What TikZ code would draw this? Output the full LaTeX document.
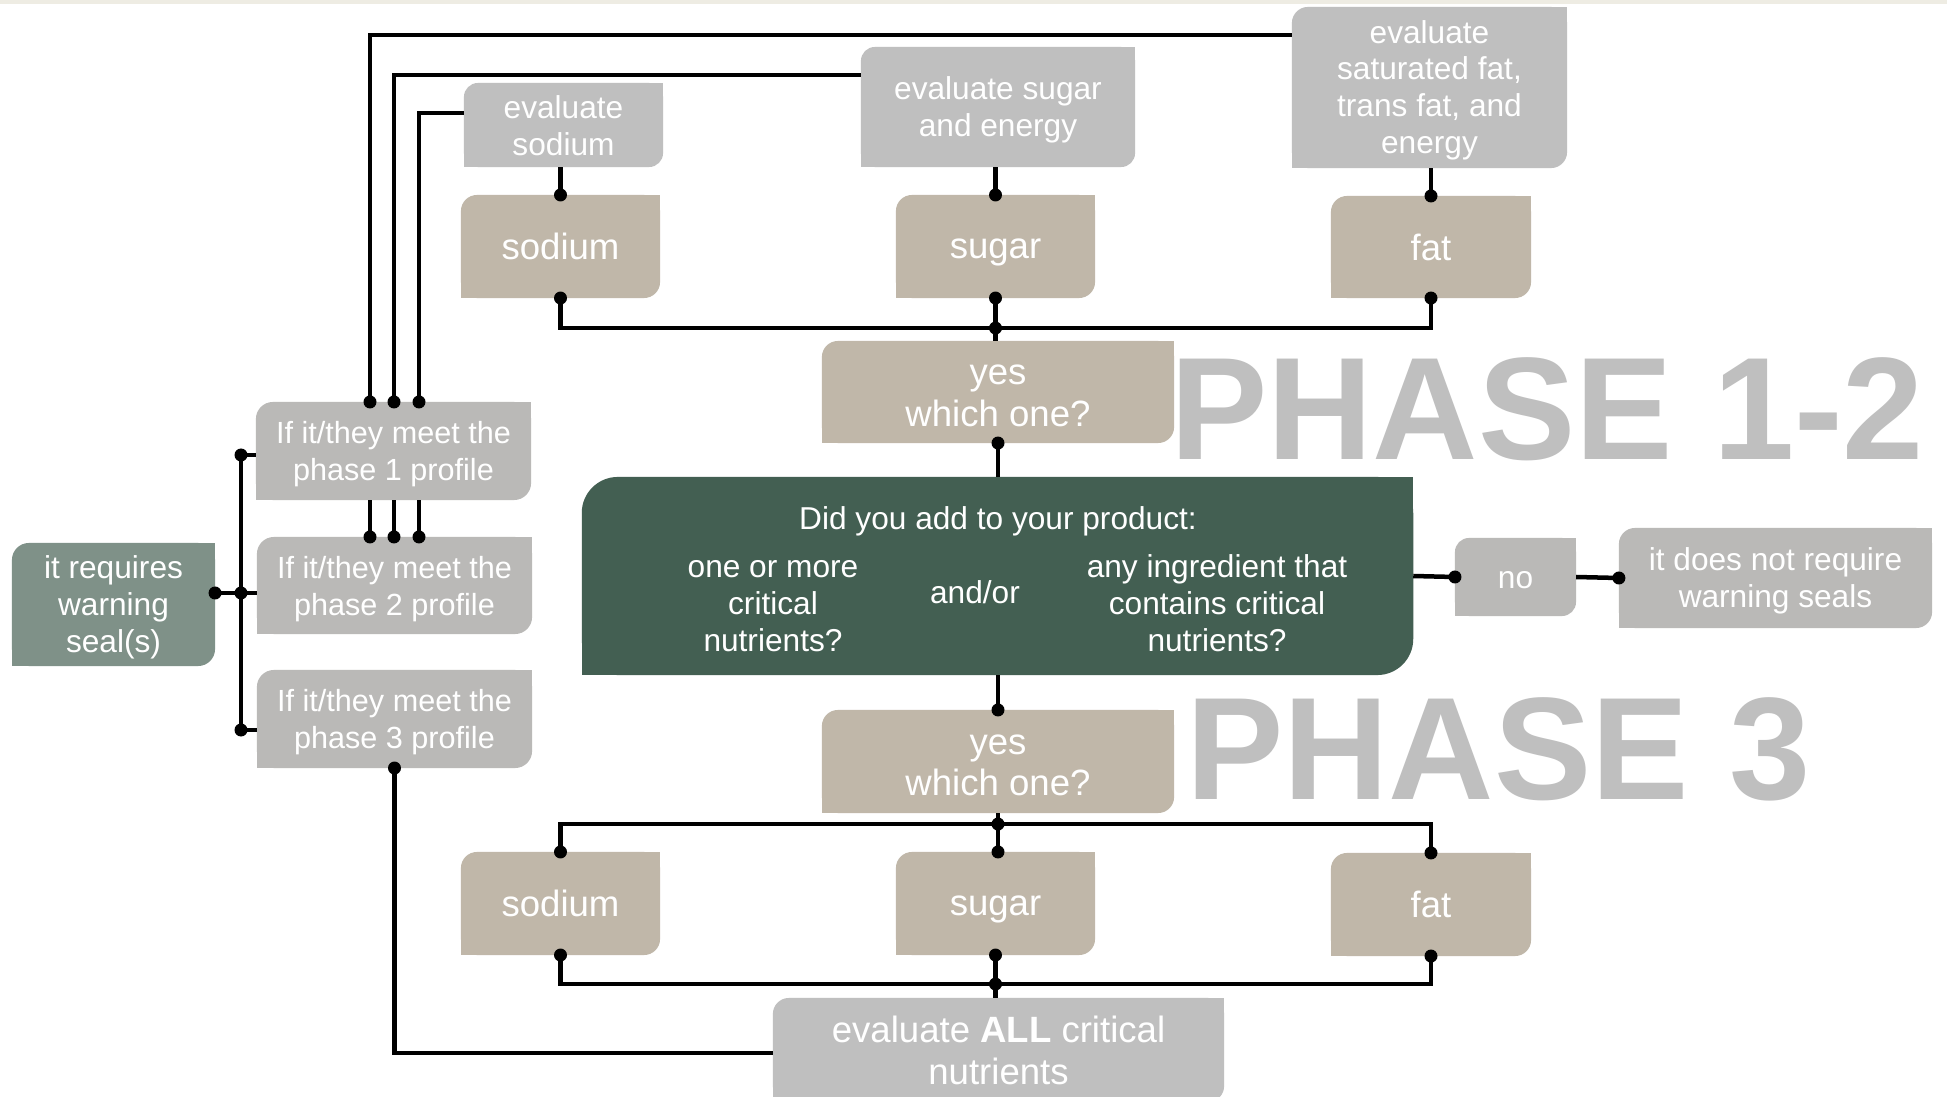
\documentclass[tikz,border=0pt]{standalone}
\usepackage{fontspec}
\setmainfont{Liberation Sans}
\definecolor{evgrey}{HTML}{BFBFBF}
\definecolor{prgrey}{HTML}{BAB9B7}
\definecolor{beige}{HTML}{C0B7A9}
\definecolor{dgreen}{HTML}{435F52}
\definecolor{warncol}{HTML}{7F9188}
\definecolor{phasecol}{HTML}{BFBFBF}
\definecolor{topstrip}{HTML}{EEECE3}
\newcommand\fsA{\fontsize{9}{10.5}\selectfont}
\newcommand\fsB{\fontsize{10.4}{11.8}\selectfont}
\newcommand\fsC{\fontsize{8.7}{10.5}\selectfont}
\newcommand\mst{\rule[-0.13\baselineskip]{0pt}{0.9\baselineskip}}
\newcommand\dbox[9]{%
  \pgfmathsetmacro\dbW{(#6-#4)*0.284528}%
  \pgfmathsetmacro\dbH{(#7-#5)*0.284528}%
  \pgfmathsetmacro\dbX{(#4+#6)/2}%
  \pgfmathsetmacro\dbY{(#5+#7)/2}%
  \pgfmathsetmacro\dbR{#9*0.284528}%
  \node[boxbase, fill=#2, font=#3, rounded corners=\dbR pt, minimum width=\dbW pt, minimum height=\dbH pt] (#1) at (\dbX,\dbY) {#8};%
  \fill[#2] (#1.north east) rectangle ++(-#9,#9);%
  \fill[#2] (#1.south west) rectangle ++(#9,-#9);%
}
\newcommand\dt[1]{\fill (#1) circle (6.5);}
\begin{document}
\begin{tikzpicture}[x=0.01cm, y=-0.01cm,
  boxbase/.style={inner sep=0pt, outer sep=0pt, text=white, align=center},
  conn/.style={line width=0.045cm, line join=miter},
  thinconn/.style={line width=0.032cm},
  phasetxt/.style={inner sep=0pt, outer sep=0pt, text=phasecol, font=\fontsize{41.5}{41.5}\selectfont\bfseries},
  gtxt/.style={inner sep=0pt, text=white, align=center, font=\fsA}]
\useasboundingbox (0,0) rectangle (1947,1097);
\fill[white] (0,0) rectangle (1947,1097);
\fill[topstrip] (0,0) rectangle (1947,4);

% watermark texts
\node[phasetxt, anchor=base west] (ph12) at (1170,460) {PHASE 1-2};
\node[phasetxt, anchor=base west] (ph3) at (1186,800) {PHASE 3};

% boxes
\dbox{evsod}{evgrey}{\fsA}{464}{83}{663}{167}{\mst evaluate\\\mst sodium}{14}
\dbox{evsug}{evgrey}{\fsA}{861}{47}{1135}{167}{\mst evaluate sugar\\\mst and energy}{14}
\dbox{evfat}{evgrey}{\fsA}{1292}{7}{1567}{168}{\mst evaluate\\\mst saturated fat,\\\mst trans fat, and\\\mst energy}{16}
\dbox{sodA}{beige}{\fsB}{461}{195}{660}{298}{\mst sodium}{16}
\dbox{sugA}{beige}{\fsB}{896}{195}{1095}{298}{\mst sugar}{16}
\dbox{fatA}{beige}{\fsB}{1331}{196}{1531}{298}{\mst fat}{16}
\dbox{yesA}{beige}{\fsB}{822}{341}{1174}{443}{\mst yes\\\mst which one?}{16}
\dbox{green}{dgreen}{\fsA}{582}{477}{1413}{675}{}{36}
\dbox{no}{prgrey}{\fsA}{1455}{538}{1576}{616}{\mst no}{14}
\dbox{nr}{prgrey}{\fsA}{1619}{528}{1932}{628}{\mst it does not require\\\mst warning seals}{16}
\dbox{yesB}{beige}{\fsB}{822}{710}{1174}{813}{\mst yes\\\mst which one?}{16}
\dbox{sodB}{beige}{\fsB}{461}{852}{660}{955}{\mst sodium}{16}
\dbox{sugB}{beige}{\fsB}{896}{852}{1095}{955}{\mst sugar}{16}
\dbox{fatB}{beige}{\fsB}{1331}{853}{1531}{956}{\mst fat}{16}
\dbox{evall}{evgrey}{\fsB}{773}{998}{1224}{1102}{\mst evaluate \textbf{ALL} critical\\\mst nutrients}{16}
\dbox{phA}{prgrey}{\fsC}{256}{402}{531}{500}{\mst If it/they meet the\\\mst phase 1 profile}{17}
\dbox{phB}{prgrey}{\fsC}{257}{537}{532}{634}{\mst If it/they meet the\\\mst phase 2 profile}{17}
\dbox{phC}{prgrey}{\fsC}{257}{670}{532}{768}{\mst If it/they meet the\\\mst phase 3 profile}{17}
\dbox{warn}{warncol}{\fsA}{12}{543}{215}{666}{\mst it requires\\\mst warning\\\mst seal(s)}{17}

% green box texts
\node[gtxt] (gq) at (998,522) {\strut Did you add to your product:};
\node[gtxt] (ga) at (773,607) {\strut one or more\\\strut critical\\\strut nutrients?};
\node[gtxt] (gb) at (975,596) {\strut and/or};
\node[gtxt] (gc) at (1217,607) {\strut any ingredient that\\\strut contains critical\\\strut nutrients?};

% phase 1-2 connectors
\draw[conn] (sodA.north |- evsod.south) -- (sodA.north); \dt{sodA.north}
\draw[conn] (sugA.north |- evsug.south) -- (sugA.north); \dt{sugA.north}
\draw[conn] (fatA.north |- evfat.south) -- (fatA.north); \dt{fatA.north}
\path (sugA.south) ++(0,30) coordinate (j1);
\draw[conn] (sodA.south) -- (sodA.south |- j1) -- (fatA.south |- j1) -- (fatA.south);
\draw[conn] (sugA.south) -- (yesA.north -| sugA.south);
\dt{sodA.south}\dt{sugA.south}\dt{fatA.south}\dt{j1}
\draw[conn] (yesA.south) -- (green.north -| yesA.south); \dt{yesA.south}
\draw[conn] (green.east) -- (no.west); \dt{no.west}
\draw[conn] (no.east) -- (nr.west); \dt{nr.west}

% phase 3 connectors
\draw[conn] (green.south -| yesB.north) -- (yesB.north); \dt{yesB.north}
\path (yesB.south) ++(0,11) coordinate (j3);
\draw[conn] (yesB.south) -- (sugB.north -| yesB.south);
\draw[conn] (sodB.north) -- (sodB.north |- j3) -- (fatB.north |- j3) -- (fatB.north);
\dt{j3}\dt{sodB.north}\dt{sugB.north -| yesB.south}\dt{fatB.north}
\path (sugB.south) ++(0,29) coordinate (j4);
\draw[conn] (sodB.south) -- (sodB.south |- j4) -- (fatB.south |- j4) -- (fatB.south);
\draw[conn] (sugB.south) -- (evall.north -| sugB.south);
\dt{sodB.south}\dt{sugB.south}\dt{fatB.south}\dt{j4}

% phase 3 profile to evaluate all
\coordinate (c3) at (394,1053);
\draw[conn] (phC.south) -- (phC.south |- c3) -- (c3 -| evall.west); \dt{phC.south}

% phase 1 profile to evaluate boxes
\coordinate (t1) at (370,35);
\coordinate (t2) at (394,75);
\coordinate (t3) at (419,113);
\draw[conn] (phA.north -| t1) -- (t1) -- (t1 -| evfat.west);
\draw[conn] (phA.north -| t2) -- (t2) -- (t2 -| evsug.west);
\draw[conn] (phA.north -| t3) -- (t3) -- (t3 -| evsod.west);
\dt{phA.north -| t1}\dt{phA.north -| t2}\dt{phA.north -| t3}
\draw[conn] (phA.south -| t1) -- (phB.north -| t1);
\draw[conn] (phA.south -| t2) -- (phB.north -| t2);
\draw[conn] (phA.south -| t3) -- (phB.north -| t3);
\dt{phB.north -| t1}\dt{phB.north -| t2}\dt{phB.north -| t3}

% left bus
\coordinate (lb1) at (241,455);
\coordinate (lb2) at (241,593);
\coordinate (lb3) at (241,730);
\draw[thinconn] (lb1) -- (lb3);
\draw[conn] (lb1) -- (lb1 -| phA.west);
\draw[conn] (lb3) -- (lb3 -| phC.west);
\draw[conn] (lb2 -| warn.east) -- (lb2 -| phB.west);
\dt{lb1}\dt{lb2}\dt{lb3}\dt{lb2 -| warn.east}
\end{tikzpicture}
\end{document}
